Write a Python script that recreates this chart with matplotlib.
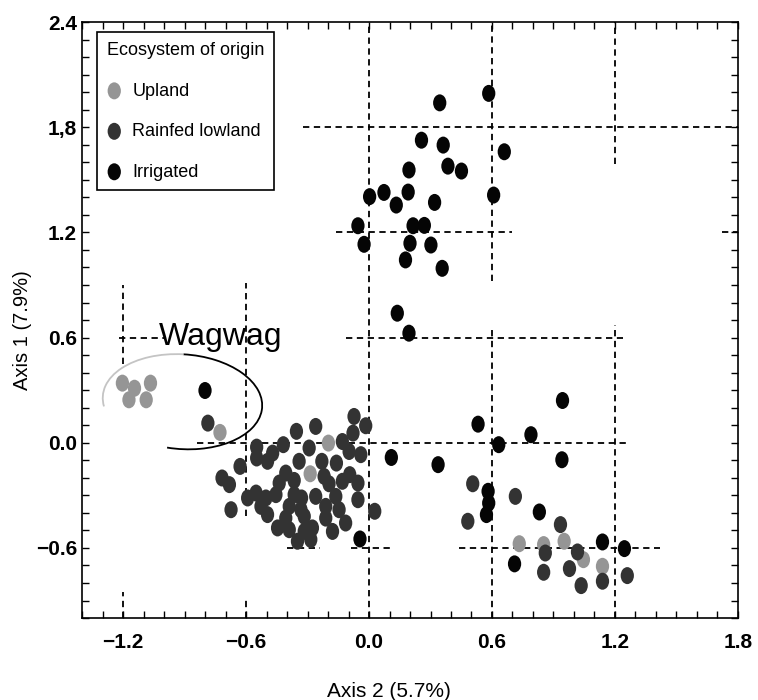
import numpy as np
import matplotlib
matplotlib.use('Agg')
import matplotlib.pyplot as plt
from matplotlib.path import Path
from matplotlib.transforms import Affine2D
from matplotlib.patches import Arc
from matplotlib.ticker import MultipleLocator, FixedLocator, FixedFormatter

plt.rcParams['font.family'] = ['Liberation Sans', 'DejaVu Sans']

# --- points (Axis 2, Axis 1) ---
upland_x = [-1.203, -1.144, -1.066, -1.171, -1.087, -0.727, -0.198, -0.287,
            0.733, 0.852, 0.952, 1.046, 1.139]
upland_y = [0.340, 0.311, 0.340, 0.245, 0.245, 0.059, -0.002, -0.177,
            -0.576, -0.581, -0.562, -0.667, -0.705]

rainfed_x = [-0.786, -0.073, -0.016, -0.078, -0.354, -0.260, -0.548, -0.418, -0.292,
             -0.130, -0.097, -0.040, -0.470, -0.548, -0.495, -0.341, -0.230, -0.159,
             -0.629, -0.406, -0.219, -0.094, -0.717, -0.681, -0.438, -0.365, -0.195,
             -0.130, -0.054, -0.551, -0.592, -0.503, -0.454, -0.365, -0.329, -0.260,
             -0.162, -0.054, -0.673, -0.527, -0.389, -0.332, -0.211, -0.146, 0.028,
             -0.495, -0.406, -0.316, -0.211, -0.114, -0.446, -0.389, -0.316, -0.276,
             -0.178, -0.349, -0.284,
             0.860, 1.017, 0.852, 0.978, 1.035, 1.139, 1.260, 0.934, 0.506, 0.714, 0.482]
rainfed_y = [0.112, 0.150, 0.097, 0.055, 0.065, 0.093, -0.025, -0.011, -0.030,
             0.007, -0.050, -0.068, -0.059, -0.087, -0.106, -0.106, -0.106, -0.116,
             -0.135, -0.173, -0.192, -0.182, -0.201, -0.239, -0.230, -0.215, -0.234,
             -0.220, -0.230, -0.287, -0.315, -0.315, -0.296, -0.296, -0.315, -0.306,
             -0.306, -0.325, -0.382, -0.363, -0.363, -0.382, -0.363, -0.382, -0.391,
             -0.410, -0.430, -0.420, -0.430, -0.458, -0.486, -0.496, -0.506, -0.486,
             -0.506, -0.562, -0.552,
             -0.629, -0.623, -0.739, -0.718, -0.815, -0.790, -0.758, -0.467, -0.234, -0.306, -0.448]

irrigated_x = [0.584, 0.345, 0.256, 0.362, 0.660, 0.385, 0.451, 0.195, 0.073, 0.003,
               0.191, 0.133, 0.320, 0.608, -0.054, 0.215, 0.270, -0.024, 0.200, 0.302,
               0.178, 0.357, 0.138, 0.195,
               -0.800, 0.109, -0.044, 0.944, 0.532, 0.790, 0.633, 0.941, 0.337, 0.581,
               0.584, 0.573, 0.831, 1.139, 1.246, 0.710]
irrigated_y = [1.993, 1.939, 1.726, 1.698, 1.660, 1.578, 1.550, 1.556, 1.428, 1.404,
               1.430, 1.356, 1.371, 1.413, 1.238, 1.238, 1.240, 1.132, 1.138, 1.128,
               1.043, 0.995, 0.739, 0.625,
               0.298, -0.084, -0.549, 0.241, 0.106, 0.046, -0.011, -0.097, -0.125, -0.277,
               -0.344, -0.410, -0.395, -0.566, -0.604, -0.691]

# dashed partition lines: (x, y from, y to) and (y, x from, x to)
vert_lines = [(0.0, -1.0, 2.4), (0.6, 0.92, 2.4), (0.6, -1.0, 0.66),
              (1.2, 1.59, 2.4), (1.2, -1.0, 0.67), (-0.6, -0.42, 0.91),
              (-0.6, -1.0, -0.88), (-1.2, 0.45, 0.90), (-1.2, -1.0, -0.85)]
horiz_lines = [(1.8, -0.32, 1.8), (1.2, -0.16, 0.70), (1.2, 1.72, 1.8),
               (0.6, -0.11, 1.24), (0.6, -1.22, -1.0), (0.0, -0.84, 1.27),
               (-0.6, -0.40, -0.24), (-0.6, -0.09, 0.10), (-0.6, 0.44, 1.42)]

x_ticks = [-1.2, -0.6, 0.0, 0.6, 1.2, 1.8]
x_labels = ['\u22121.2', '\u22120.6', '0.0', '0.6', '1.2', '1.8']
y_ticks = [-0.6, 0.0, 0.6, 1.2, 1.8, 2.4]
y_labels = ['\u22120.6', '0.0', '0.6', '1.2', '1,8', '2.4']

oval = Path.unit_circle().transformed(Affine2D().scale(0.78, 1.0))

fig = plt.figure(figsize=(7.58, 7.0), dpi=100)
ax = fig.add_axes([0.1082, 0.1171, 0.8654, 0.8514])
ax.set_xlim(-1.40, 1.80)
ax.set_ylim(-1.0, 2.4)

dash = dict(color='black', lw=1.3, dashes=(3.5, 2.5), zorder=1)
for x, y0, y1 in vert_lines:
    ax.plot([x, x], [y0, y1], **dash)
for y, x0, x1 in horiz_lines:
    ax.plot([x0, x1], [y, y], **dash)

ax.scatter(upland_x, upland_y, marker=oval, s=150, color='#959595',
           edgecolors='none', label='Upland', zorder=2)
ax.scatter(rainfed_x, rainfed_y, marker=oval, s=150, color='#333333',
           edgecolors='none', label='Rainfed lowland', zorder=3)
ax.scatter(irrigated_x, irrigated_y, marker=oval, s=150, color='#050505',
           edgecolors='none', label='Irrigated', zorder=4)

# Wagwag circle, left side faded as in the scan
ax.add_patch(Arc((-0.91, 0.234), 0.78, 0.54, angle=-6, theta1=-100, theta2=95,
                 color='black', lw=1.3, zorder=5))
ax.add_patch(Arc((-0.91, 0.234), 0.78, 0.54, angle=-6, theta1=95, theta2=190,
                 color='#c4c4c4', lw=1.3, zorder=5))
ax.text(-0.722, 0.558, 'Wagwag', fontsize=23, ha='center', va='baseline', zorder=6)

ax.xaxis.set_major_locator(FixedLocator(x_ticks))
ax.xaxis.set_major_formatter(FixedFormatter(x_labels))
ax.yaxis.set_major_locator(FixedLocator(y_ticks))
ax.yaxis.set_major_formatter(FixedFormatter(y_labels))
ax.xaxis.set_minor_locator(MultipleLocator(0.1))
ax.yaxis.set_minor_locator(MultipleLocator(0.1))
ax.tick_params(which='both', direction='in', top=True, right=True,
               length=5, width=1.0)
ax.tick_params(axis='x', which='major', pad=11, labelsize=15)
ax.tick_params(axis='y', which='major', pad=3.5, labelsize=15)
for lab in ax.get_xticklabels() + ax.get_yticklabels():
    lab.set_fontweight('bold')
for sp in ax.spines.values():
    sp.set_linewidth(1.2)

ax.set_xlabel('Axis 2 (5.7%)', fontsize=15)
ax.set_ylabel('Axis 1 (7.9%)', fontsize=14.5)
ax.xaxis.set_label_coords(0.468, -0.107)
ax.yaxis.set_label_coords(-0.077, 0.483)

leg = ax.legend(title='Ecosystem of origin', loc='upper left',
                bbox_to_anchor=(0.023, 0.983), borderaxespad=0, fontsize=13,
                title_fontsize=13, fancybox=False, edgecolor='black',
                framealpha=1, labelspacing=1.3, handlelength=0.8,
                handletextpad=0.6, borderpad=0.55, markerscale=1.0)
leg.get_frame().set_linewidth(1.2)
leg._legend_box.align = 'left'

fig.savefig('out.png', dpi=100)
